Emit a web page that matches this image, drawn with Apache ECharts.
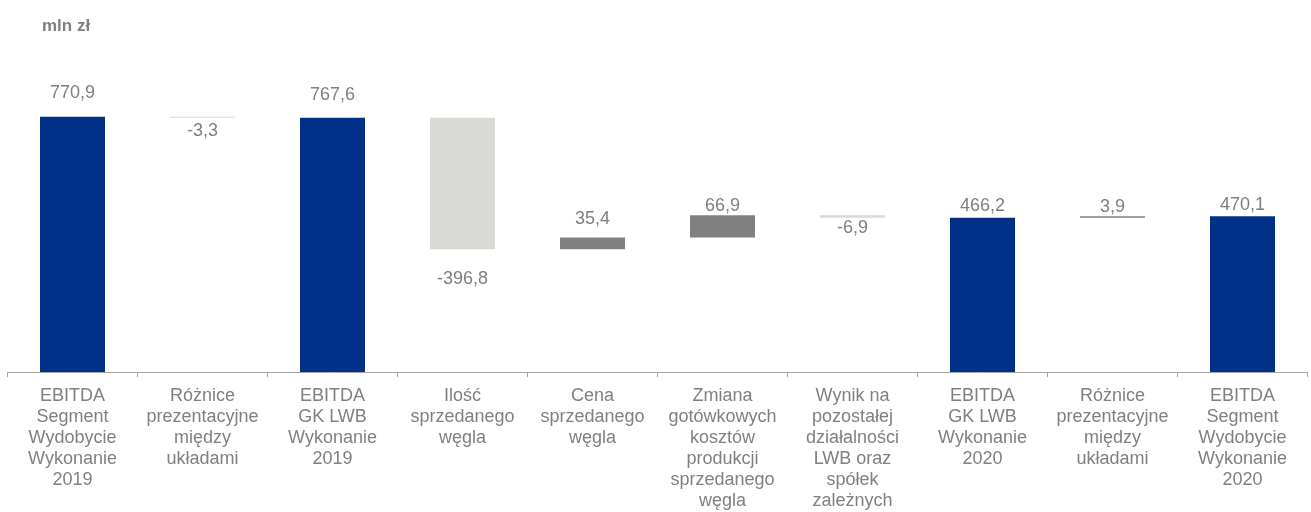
<!DOCTYPE html>
<html><head><meta charset="utf-8">
<script src="https://cdn.jsdelivr.net/npm/echarts@6/dist/echarts.min.js"></script>
<style>html,body{margin:0;padding:0;background:#fff}#c{width:1311px;height:512px}</style>
</head><body><div id="c"></div>
<script>
const categories = [
  "EBITDA\nSegment\nWydobycie\nWykonanie\n2019",
  "Różnice\nprezentacyjne\nmiędzy\nukładami",
  "EBITDA\nGK LWB\nWykonanie\n2019",
  "Ilość\nsprzedanego\nwęgla",
  "Cena\nsprzedanego\nwęgla",
  "Zmiana\ngotówkowych\nkosztów\nprodukcji\nsprzedanego\nwęgla",
  "Wynik na\npozostałej\ndziałalności\nLWB oraz\nspółek\nzależnych",
  "EBITDA\nGK LWB\nWykonanie\n2020",
  "Różnice\nprezentacyjne\nmiędzy\nukładami",
  "EBITDA\nSegment\nWydobycie\nWykonanie\n2020"
];
const values = [770.9, -3.3, 767.6, -396.8, 35.4, 66.9, -6.9, 466.2, 3.9, 470.1];
const isTotal = [true, false, true, false, false, false, false, true, false, true];
const unitLabel = "mln zł";

// layout: label distance per bar (px)
const labelGap = [15, 4, 14, 21, 9, 0, 1, 3, 0, 2];

const NAVY = '#003087', POS = '#808080', NEG = '#d9d9d6';
let running = 0;
const base = [], vis = [];
values.forEach((v, i) => {
  let b, h, color;
  if (isTotal[i]) { b = 0; h = v; running = v; color = NAVY; }
  else {
    if (v >= 0) { b = running; h = v; color = POS; }
    else { b = running + v; h = -v; color = NEG; }
    running += v;
  }
  base.push(b);
  const pos = (isTotal[i] || v >= 0) ? 'top' : 'bottom';
  vis.push({
    value: h,
    itemStyle: { color },
    label: { show: true, position: pos, distance: labelGap[i],
      formatter: () => v.toFixed(1).replace('.', ',') }
  });
});

const chart = echarts.init(document.getElementById('c'));
chart.setOption({
  animation: false,
  title: { text: unitLabel, left: 37, top: 13,
    textStyle: { fontFamily: 'Liberation Sans', fontSize: 17, fontWeight: 'bold', color: '#808080' } },
  grid: { left: 7.5, right: 3.5, top: 74, bottom: 138, containLabel: false },
  xAxis: {
    type: 'category', data: categories,
    axisLine: { lineStyle: { color: '#a6a6a6', width: 1 } },
    axisTick: { show: true, length: 5, lineStyle: { color: '#a6a6a6' } },
    axisLabel: { interval: 0, margin: 14, color: '#808080', fontFamily: 'Liberation Sans',
      fontSize: 18, lineHeight: 21, align: 'center' }
  },
  yAxis: { type: 'value', min: 0, max: 900, show: false, splitLine: { show: false } },
  series: [
    { type: 'bar', stack: 'w', data: base, barWidth: '50%', itemStyle: { color: 'transparent' }, silent: true },
    { type: 'bar', stack: 'w', data: vis, barWidth: '50%',
      label: { fontFamily: 'Liberation Sans', fontSize: 18, color: '#7f7f7f' } }
  ]
});
</script></body></html>
